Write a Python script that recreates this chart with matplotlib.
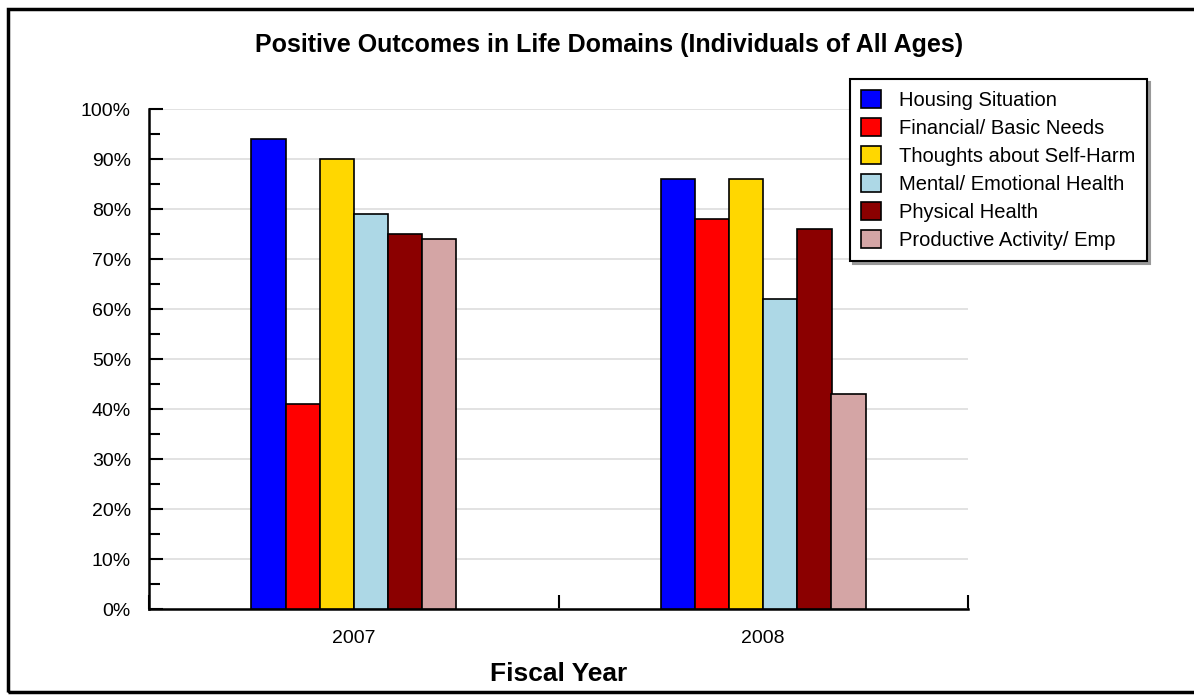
import matplotlib
matplotlib.use("Agg")
import matplotlib.pyplot as plt
import numpy as np
from matplotlib.patches import Rectangle
from matplotlib.ticker import MultipleLocator, FuncFormatter

years = ["2007", "2008"]
series = ["Housing Situation", "Financial/ Basic Needs", "Thoughts about Self-Harm",
          "Mental/ Emotional Health", "Physical Health", "Productive Activity/ Emp"]
values_2007 = [94, 41, 90, 79, 75, 74]
values_2008 = [86, 78, 86, 62, 76, 43]
colors = ["#0000FF", "#FF0000", "#FFD700", "#ADD8E6", "#8B0000", "#D4A5A5"]

plt.rcParams['font.family'] = ['Liberation Sans', 'DejaVu Sans']

fig = plt.figure(figsize=(11.94, 7), dpi=100)
# figure border
fig.patches.append(Rectangle((8/1194, 1-692/700), 1.2, (692-9)/700, transform=fig.transFigure,
                             fill=False, edgecolor='black', linewidth=2.5, zorder=0))

ax = fig.add_axes([149/1194, 1-609/700, 819/1194, 500/700])

data = np.array([values_2007, values_2008])
n = len(series)
group_w = 0.5
bw = group_w / n
x = np.arange(len(years)) + 0.5
for i in range(n):
    ax.bar(x - group_w/2 + bw*(i+0.5), data[:, i], width=bw, color=colors[i],
           edgecolor='black', linewidth=1.2, label=series[i], zorder=3)

ax.set_xlim(0, 2)
ax.set_ylim(0, 100)
ax.yaxis.set_major_locator(MultipleLocator(10))
ax.yaxis.set_minor_locator(MultipleLocator(5))
ax.yaxis.set_major_formatter(FuncFormatter(lambda v, p: f"{int(v)}%"))
ax.grid(axis='y', which='major', color='#DDDDDD', linewidth=1.2, zorder=0)
ax.tick_params(axis='y', which='major', direction='in', length=10, width=1.5, labelsize=14, pad=13)
ax.tick_params(axis='y', which='minor', direction='in', length=8, width=1.5)
ax.set_xticks([0, 1, 2])
ax.set_xticklabels(["", "", ""])
ax.set_xticks(x, minor=True)
ax.set_xticklabels(years, minor=True)
ax.tick_params(axis='x', which='major', direction='in', length=10, width=1.5)
ax.tick_params(axis='x', which='minor', length=0, labelsize=14, pad=15)
for s in ['top', 'right']:
    ax.spines[s].set_visible(False)
for s in ['left', 'bottom']:
    ax.spines[s].set_linewidth(1.8)
ax.set_xlabel("Fiscal Year", fontsize=19, fontweight='bold', labelpad=11)

fig.text(609/1194, 1-45/700, "Positive Outcomes in Life Domains (Individuals of All Ages)",
         ha='center', va='center', fontsize=18, fontweight='bold')

leg = ax.legend(loc='upper left', bbox_to_anchor=(850/1194, 1-79/700), bbox_transform=fig.transFigure,
                fontsize=14.5, frameon=True, fancybox=False, shadow={'color': '#999999', 'alpha': 1},
                borderpad=0.55, handlelength=1.0, handleheight=1.0, labelspacing=0.4, handletextpad=0.9,
                edgecolor='black', borderaxespad=0)
leg.get_frame().set_linewidth(1.5)

fig.savefig("out.png", dpi=100)
